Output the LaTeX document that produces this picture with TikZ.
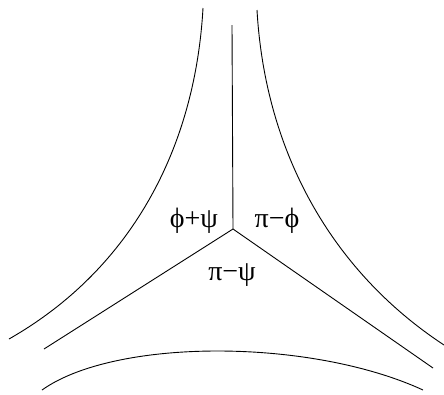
\documentclass[tikz,border=0pt]{standalone}
\usepackage{fontspec}
\setmainfont{Liberation Serif}
\begin{document}
\begin{tikzpicture}[x=1pt,y=-1pt,line width=0.9pt,
  lbl/.style={font=\fontsize{28}{32}\selectfont,inner sep=0pt}]
\useasboundingbox (0,0) rectangle (444,394);
\coordinate (c) at (233,229);
\coordinate (top) at (232,25);
\coordinate (bl) at (44,349);
\coordinate (br) at (433,368);
\draw (c) -- (top);
\draw (c) -- (bl);
\draw (c) -- (br);
\draw (203,8) .. controls (195,150) and (130,270) .. (9,339);
\draw (257,10) .. controls (265,150) and (330,270) .. (444,345);
\draw (42,390) .. controls (115,338) and (310,338) .. (423,390);
\node[lbl] (a) at (194,221) {ϕ+ψ};
\node[lbl] (b) at (277,221) {π−ϕ};
\node[lbl] (d) at (232,275) {π−ψ};
\end{tikzpicture}
\end{document}
